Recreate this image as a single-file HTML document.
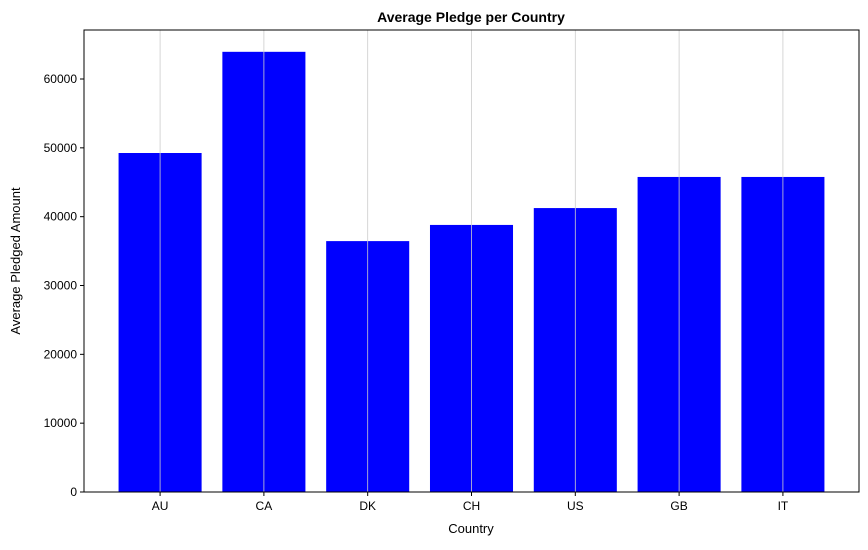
<!DOCTYPE html>
<html><head><meta charset="utf-8"><style>
body{margin:0;background:#fff;}
svg{font-family:"Liberation Sans","DejaVu Sans",sans-serif;}
</style></head><body>
<svg id="chart" width="868" height="545" viewBox="0 0 868 545">
<text x="471" y="22" text-anchor="middle" font-size="14" font-weight="bold">Average Pledge per Country</text>
<g id="bars"></g>
<g id="grid"></g>
<g id="yaxis"></g>
<g id="xaxis"></g>
<rect x="84" y="30" width="775" height="462" fill="none" stroke="#000" stroke-width="1"/>
<text x="471" y="533" text-anchor="middle" font-size="13">Country</text>
<text x="20" y="261" text-anchor="middle" font-size="13" transform="rotate(-90 20 261)">Average Pledged Amount</text>
</svg>
<script>
const categories=["AU","CA","DK","CH","US","GB","IT"];
const values=[49250,63950,36450,38800,41250,45770,45770];
const yTicks=[0,10000,20000,30000,40000,50000,60000];
const L=84,R=859,T=30,B=492,yMax=67120;
const xMin=-0.733,xMax=6.733;
const xs=i=>L+(i-xMin)/(xMax-xMin)*(R-L);
const ys=v=>B-v/yMax*(B-T);
const ns="http://www.w3.org/2000/svg";
const bw=0.8*(R-L)/(xMax-xMin);
const gb=document.getElementById('bars'),gg=document.getElementById('grid'),gy=document.getElementById('yaxis'),gx=document.getElementById('xaxis');
function mk(t,a,p){const e=document.createElementNS(ns,t);for(const k in a)e.setAttribute(k,a[k]);p.appendChild(e);return e;}
categories.forEach((c,i)=>{
 const r=mk('rect',{x:xs(i)-bw/2,y:ys(values[i]),width:bw,height:B-ys(values[i]),fill:'#0000ff'},gb);
 
 
 const g=mk('line',{x1:xs(i),x2:xs(i),y1:T,y2:B,stroke:'#cccccc','stroke-width':0.8},gg);
 
 
 mk('line',{x1:xs(i),x2:xs(i),y1:B,y2:B+4,stroke:'#000'},gx);
 const t=mk('text',{x:xs(i),y:B+18,'text-anchor':'middle','font-size':12},gx);
 t.textContent=c;
 
 
});
yTicks.forEach(v=>{
 mk('line',{x1:L-4,x2:L,y1:ys(v),y2:ys(v),stroke:'#000'},gy);
 const t=mk('text',{x:L-7,y:ys(v)+4,'text-anchor':'end','font-size':12},gy);
 t.textContent=v;
 
 
});
</script>
</body></html>
